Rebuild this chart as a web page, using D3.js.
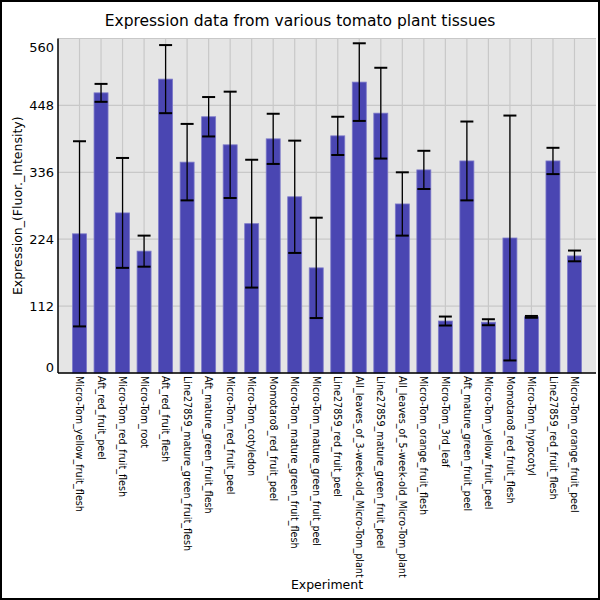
<!DOCTYPE html>
<html>
<head>
<meta charset="utf-8">
<script src="https://cdn.jsdelivr.net/npm/d3@7"></script>
<style>
  body { margin: 0; background: #fff; }
  text { font-family: "DejaVu Sans", sans-serif; }
</style>
</head>
<body>
<svg id="chart" width="600" height="600"></svg>
<script>
const experiments = [
  "Micro-Tom_yellow_fruit_flesh", "Aft_red_fruit_peel", "Micro-Tom_red_fruit_flesh",
  "Micro-Tom_root", "Aft_red_fruit_flesh", "Line27859_mature_green_fruit_flesh",
  "Aft_mature_green_fruit_flesh", "Micro-Tom_red_fruit_peel", "Micro-Tom_cotyledon",
  "Momotaro8_red_fruit_peel", "Micro-Tom_mature_green_fruit_flesh", "Micro-Tom_mature_green_fruit_peel",
  "Line27859_red_fruit_peel", "All_leaves_of_3-week-old_Micro-Tom_plant", "Line27859_mature_green_fruit_peel",
  "All_leaves_of_5-week-old_Micro-Tom_plant", "Micro-Tom_orange_fruit_flesh", "Micro-Tom_3rd_leaf",
  "Aft_mature_green_fruit_peel", "Micro-Tom_yellow_fruit_peel", "Momotaro8_red_fruit_flesh",
  "Micro-Tom_hypocotyl", "Line27859_red_fruit_flesh", "Micro-Tom_orange_fruit_peel"
];
const expression = [233, 469, 268, 204, 492, 353, 429, 382, 250, 392, 295, 176,
                    397, 487, 435, 283, 340, 87, 355, 85, 226, 94, 355, 196];
const stdev = [155, 15, 92, 26, 57, 64, 33, 89, 107, 42, 94, 84,
               32, 65, 76, 53, 32, 7.5, 66, 5, 205, 1.5, 22, 9];
const yTicks = [0, 112, 224, 336, 448, 560];

const svg = d3.select("#chart");
const W = 600, H = 600;
const m = { top: 38.5, right: 4, bottom: 227, left: 58 };

// outer frame
svg.append("rect")
  .attr("x", 1).attr("y", 1).attr("width", W - 2).attr("height", H - 2)
  .attr("fill", "white").attr("stroke", "black").attr("stroke-width", 2);

const x = d3.scalePoint()
  .domain(experiments)
  .range([m.left, W - m.right])
  .padding(1);
const y = d3.scaleLinear()
  .domain([0, 560])
  .range([H - m.bottom, m.top]);
const barW = x.step() * 0.65;

// plot background
svg.append("rect")
  .attr("x", m.left).attr("y", m.top)
  .attr("width", W - m.right - m.left).attr("height", H - m.bottom - m.top)
  .attr("fill", "#e5e5e5");

// grid
svg.append("g").selectAll("line").data(yTicks).join("line")
  .attr("x1", m.left).attr("x2", W - m.right)
  .attr("y1", d => y(d)).attr("y2", d => y(d))
  .attr("stroke", "#c8c8c8").attr("stroke-width", 1.2);
svg.append("g").selectAll("line").data(experiments).join("line")
  .attr("x1", d => x(d)).attr("x2", d => x(d))
  .attr("y1", m.top).attr("y2", H - m.bottom)
  .attr("stroke", "#c8c8c8").attr("stroke-width", 1.2);

// bars
svg.append("g").selectAll("rect").data(expression).join("rect")
  .attr("x", (d, i) => x(experiments[i]) - barW / 2)
  .attr("width", barW)
  .attr("y", d => y(d))
  .attr("height", d => y(0) - y(d))
  .attr("fill", "#4a46b2")
  .attr("stroke", "#7c79c9").attr("stroke-width", 0.8);

// error bars
const err = svg.append("g").selectAll("g").data(expression).join("g")
  .attr("transform", (d, i) => "translate(" + x(experiments[i]) + ",0)");
err.append("line")
  .attr("y1", (d, i) => y(d + stdev[i]))
  .attr("y2", (d, i) => y(d - stdev[i]))
  .attr("stroke", "black").attr("stroke-width", 1.3);
err.append("line")
  .attr("x1", -barW / 2 + 0.5).attr("x2", barW / 2 - 0.5)
  .attr("y1", (d, i) => y(d + stdev[i])).attr("y2", (d, i) => y(d + stdev[i]))
  .attr("stroke", "black").attr("stroke-width", 2);
err.append("line")
  .attr("x1", -barW / 2 + 0.5).attr("x2", barW / 2 - 0.5)
  .attr("y1", (d, i) => y(d - stdev[i])).attr("y2", (d, i) => y(d - stdev[i]))
  .attr("stroke", "black").attr("stroke-width", 2);

// axes lines
svg.append("line")
  .attr("x1", m.left).attr("x2", m.left)
  .attr("y1", m.top).attr("y2", H - m.bottom)
  .attr("stroke", "black").attr("stroke-width", 1.5);
svg.append("line")
  .attr("x1", m.left).attr("x2", W - m.right)
  .attr("y1", H - m.bottom).attr("y2", H - m.bottom)
  .attr("stroke", "black").attr("stroke-width", 1.5);

// y tick labels (end ones pushed inside the plot height)
svg.append("g").selectAll("text").data(yTicks).join("text")
  .attr("x", m.left - 4)
  .attr("y", d => y(d) + (d === 0 ? -6 : d === 560 ? 9 : 0))
  .attr("dy", "0.35em")
  .attr("text-anchor", "end")
  .attr("font-size", 13)
  .text(d => d);

// x tick labels
svg.append("g").selectAll("text").data(experiments).join("text")
  .attr("transform", d => "translate(" + x(d) + "," + (H - m.bottom + 3) + ") rotate(90)")
  .attr("dy", "0.35em")
  .attr("font-size", 9.6)
  .text(d => d);

// titles
svg.append("text")
  .attr("x", W / 2).attr("y", 26)
  .attr("text-anchor", "middle")
  .attr("font-size", 15.5)
  .text("Expression data from various tomato plant tissues");
svg.append("text")
  .attr("transform", "translate(22," + (m.top + H - m.bottom) / 2 + ") rotate(-90)")
  .attr("text-anchor", "middle")
  .attr("font-size", 12.5)
  .text("Expression_(Fluor._Intensity)");
svg.append("text")
  .attr("x", (m.left + W - m.right) / 2).attr("y", 589)
  .attr("text-anchor", "middle")
  .attr("font-size", 12.5)
  .text("Experiment");
</script>
</body>
</html>
